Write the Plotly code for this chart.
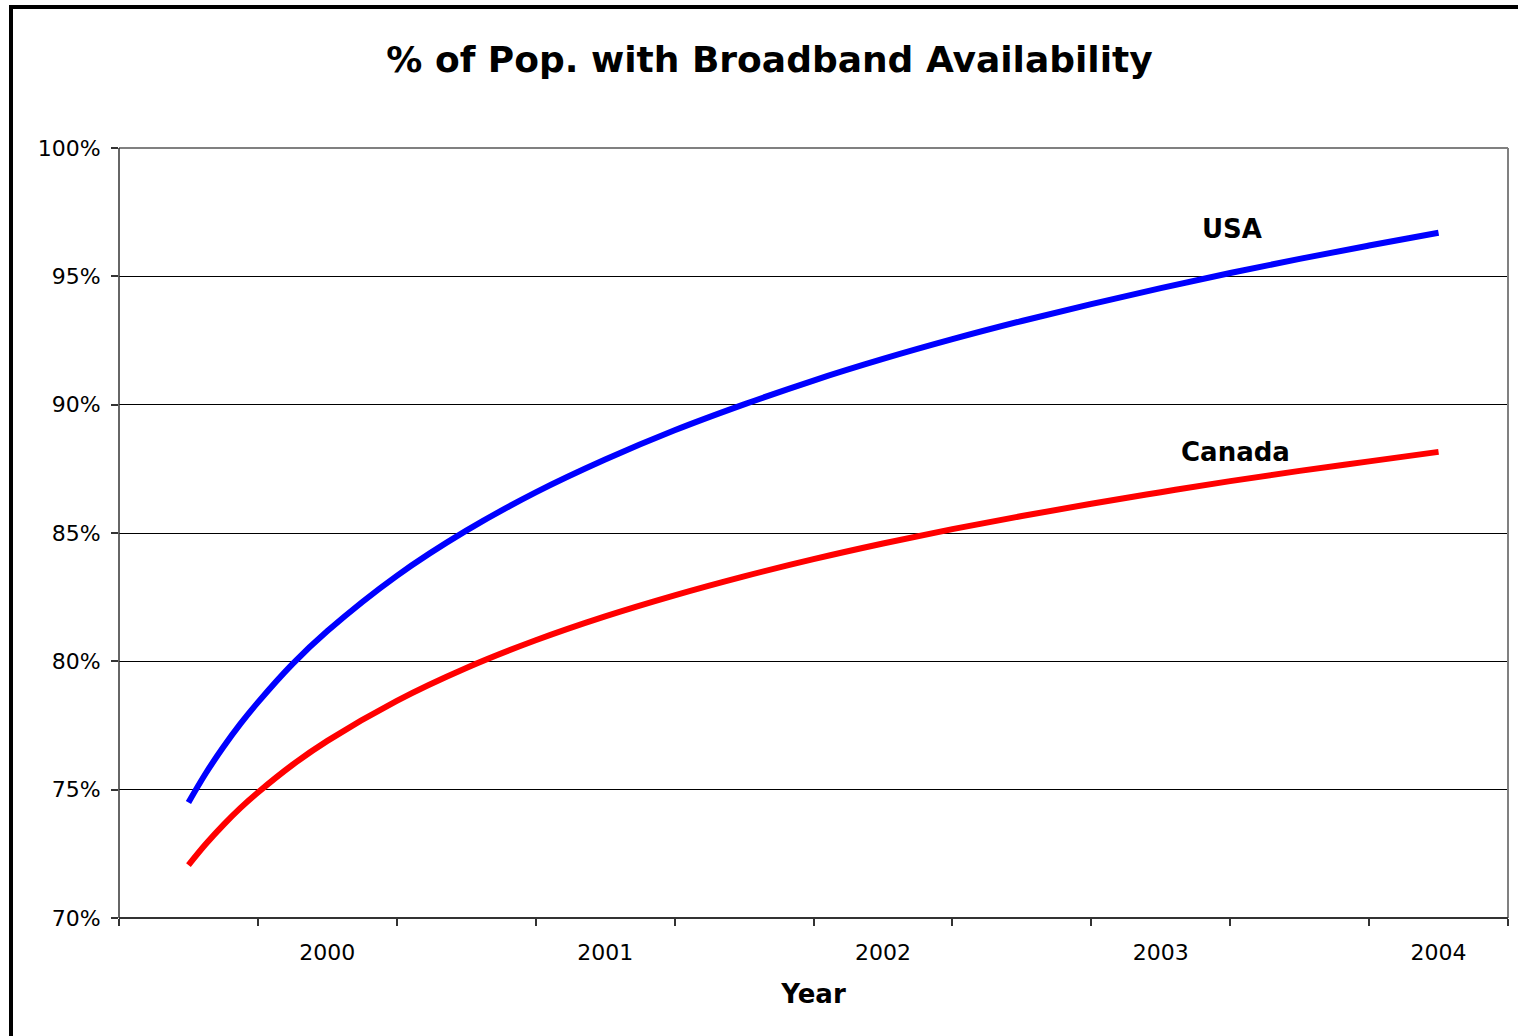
import plotly.graph_objects as go

# Data
years = [1999.5, 1999.5625, 1999.625, 1999.6875, 1999.75, 1999.875, 2000.0, 2000.25,
         2000.5, 2000.75, 2001.0, 2001.25, 2001.5, 2001.75, 2002.0, 2002.25,
         2002.5, 2002.75, 2003.0, 2003.25, 2003.5, 2003.75, 2004.0]
usa = [74.5, 75.64, 76.65, 77.57, 78.4, 79.9, 81.18, 83.33, 85.09, 86.58, 87.86,
       89.0, 90.01, 90.94, 91.78, 92.55, 93.26, 93.92, 94.54, 95.13, 95.68, 96.2, 96.7]
canada = [72.06, 72.88, 73.62, 74.29, 74.89, 75.97, 76.9, 78.46, 79.74, 80.82,
          81.75, 82.57, 83.31, 83.98, 84.59, 85.15, 85.66, 86.14, 86.59, 87.02,
          87.42, 87.79, 88.16]
year_ticks = [2000, 2001, 2002, 2003, 2004]
year_labels = ["2000", "2001", "2002", "2003", "2004"]
pct_ticks = [70, 75, 80, 85, 90, 95, 100]
pct_labels = ["70%", "75%", "80%", "85%", "90%", "95%", "100%"]

FONT = "DejaVu Sans"
AX = "#333333"

fig = go.Figure()
fig.add_trace(go.Scatter(x=years, y=usa, mode="lines", name="USA",
                         line=dict(color="#0000FF", width=6, shape="spline", smoothing=1)))
fig.add_trace(go.Scatter(x=years, y=canada, mode="lines", name="Canada",
                         line=dict(color="#FF0000", width=6, shape="spline", smoothing=1)))

fig.update_layout(
    width=1518, height=1036,
    margin=dict(l=119, r=10, t=148, b=118),
    paper_bgcolor="white", plot_bgcolor="white",
    showlegend=False,
    font=dict(family=FONT, color="black"),
    title=dict(text="<b>% of Pop. with Broadband Availability</b>",
               font=dict(family=FONT, size=36, color="black"),
               x=769.5 / 1518, xref="container", xanchor="center",
               y=1 - 59 / 1036, yref="container", yanchor="middle"),
    xaxis=dict(range=[1999.25, 2004.25], tickmode="array",
               tickvals=year_ticks, ticktext=year_labels,
               ticks="", showgrid=False, showline=False, zeroline=False,
               ticklabelstandoff=19,
               tickfont=dict(family=FONT, size=22, color="black"),
               minor=dict(ticks="outside", tick0=1999.25, dtick=0.5,
                          ticklen=7, tickwidth=1.5, tickcolor=AX, showgrid=False),
               title=dict(text="<b>Year</b>", font=dict(family=FONT, size=26, color="black"),
                          standoff=20)),
    yaxis=dict(range=[70, 100], tickmode="array", tickvals=pct_ticks,
               ticktext=pct_labels, ticks="outside", ticklen=7, tickwidth=1.5,
               tickcolor=AX, showgrid=True, gridcolor="black", gridwidth=1,
               showline=False, zeroline=False, ticklabelstandoff=6,
               tickfont=dict(family=FONT, size=22, color="black")),
)

# Plot area border: gray top/right, dark left/bottom
fig.add_shape(type="line", xref="paper", yref="paper", x0=0, x1=1, y0=1, y1=1,
              line=dict(color="#808080", width=2), layer="above")
fig.add_shape(type="line", xref="paper", yref="paper", x0=1, x1=1, y0=0, y1=1,
              line=dict(color="#808080", width=2), layer="above")
fig.add_shape(type="line", xref="paper", yref="paper", x0=0, x1=0, y0=0, y1=1,
              line=dict(color=AX, width=1.5), layer="above")
fig.add_shape(type="line", xref="paper", yref="paper", x0=0, x1=1, y0=0, y1=0,
              line=dict(color=AX, width=2), layer="above")

# Outer chart frame
fig.add_shape(type="rect", xref="paper", yref="paper",
              x0=(11 - 119) / 1389, x1=(1530 - 119) / 1389,
              y0=-(1050 - 918) / 770, y1=1 + (148 - 7) / 770,
              line=dict(color="black", width=4), layer="above")

# Series labels
fig.add_annotation(x=2003.258, y=96.84, text="<b>USA</b>", showarrow=False,
                   font=dict(family=FONT, size=26, color="black"))
fig.add_annotation(x=2003.27, y=88.17, text="<b>Canada</b>", showarrow=False,
                   font=dict(family=FONT, size=26, color="black"))

fig.write_html("out.html")
